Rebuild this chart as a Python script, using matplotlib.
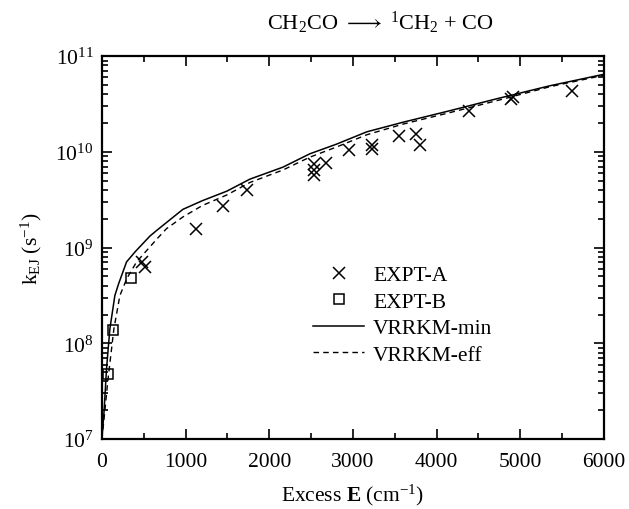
import matplotlib
matplotlib.use("Agg")
import matplotlib.pyplot as plt
from matplotlib.ticker import MultipleLocator, LogLocator, NullFormatter

plt.rcParams['font.family'] = ['Liberation Serif', 'DejaVu Serif']
plt.rcParams['mathtext.fontset'] = 'custom'
plt.rcParams['mathtext.rm'] = 'Liberation Serif'
plt.rcParams['mathtext.it'] = 'Liberation Serif:italic'
plt.rcParams['mathtext.bf'] = 'Liberation Serif:bold'

# EXPT-A (crosses)
expt_a_E = [474, 513, 1123, 1446, 1733, 2534, 2534, 2534, 2677, 2952, 3227, 3227,
            3550, 3753, 3801, 4386, 4888, 4912, 5617]
expt_a_k = [7.1e8, 6.3e8, 1.55e9, 2.7e9, 4.0e9, 7.4e9, 6.5e9, 5.7e9, 7.6e9, 1.05e10,
            1.17e10, 1.07e10, 1.46e10, 1.53e10, 1.17e10, 2.7e10, 3.55e10, 3.7e10, 4.3e10]

# EXPT-B (squares)
expt_b_E = [68, 128, 343]
expt_b_k = [4.8e7, 1.38e8, 4.8e8]

# VRRKM-min (solid)
min_E = [0, 25, 55, 95, 155, 200, 295, 400, 574, 654, 968, 1200, 1494, 1769, 2163,
         2486, 2800, 3167, 3600, 4159, 4700, 5354, 6000]
min_k = [1.0e7, 1.9e7, 5.4e7, 1.41e8, 3.16e8, 4.2e8, 7.1e8, 9.1e8, 1.32e9, 1.51e9,
         2.51e9, 3.09e9, 3.89e9, 5.19e9, 6.92e9, 9.55e9, 1.2e10, 1.62e10, 2.04e10,
         2.69e10, 3.55e10, 4.9e10, 6.46e10]

# VRRKM-eff (dashed)
eff_E = [0, 36, 70, 143, 215, 300, 415, 657, 773, 968, 1200, 1494, 1769, 2163, 2486,
         2800, 3167, 3600, 4159, 4700, 5354, 6000]
eff_k = [1.0e7, 2.0e7, 4.0e7, 1.41e8, 3.16e8, 4.8e8, 7.1e8, 1.23e9, 1.58e9, 2.09e9,
         2.75e9, 3.55e9, 4.79e9, 6.46e9, 8.81e9, 1.12e10, 1.51e10, 1.95e10, 2.57e10,
         3.39e10, 4.79e10, 6.31e10]

fig = plt.figure(figsize=(6.29, 5.10), dpi=100)
ax = fig.add_axes([0.162, 0.137, 0.798, 0.751])

ax.plot(expt_a_E, expt_a_k, linestyle='none', marker='x', color='black',
        markersize=9, markeredgewidth=1.1, label='EXPT-A')
ax.plot(expt_b_E, expt_b_k, linestyle='none', marker='s', color='black',
        markerfacecolor='none', markersize=7, markeredgewidth=1.1, label='EXPT-B')
ax.plot(min_E, min_k, '-', color='black', linewidth=1.1, label='VRRKM-min')
ax.plot(eff_E, eff_k, '--', color='black', linewidth=1.0, dashes=(4, 3), label='VRRKM-eff')

ax.set_yscale('log')
ax.set_xlim(0, 6000)
ax.set_ylim(1e7, 1e11)
ax.xaxis.set_major_locator(MultipleLocator(1000))
ax.xaxis.set_minor_locator(MultipleLocator(500))
ax.yaxis.set_major_locator(LogLocator(base=10, numticks=10))
ax.yaxis.set_minor_locator(LogLocator(base=10, subs=range(2, 10), numticks=20))
ax.yaxis.set_minor_formatter(NullFormatter())

ax.tick_params(which='both', direction='in', top=True, right=True, labelsize=15.5,
               width=1.2, colors='black')
ax.tick_params(which='major', length=7)
ax.tick_params(axis='x', which='major', pad=9)
ax.tick_params(axis='y', which='major', pad=6)
ax.tick_params(which='minor', length=4)
for s in ax.spines.values():
    s.set_linewidth(1.6)

ax.set_xlabel(r'Excess $\mathbf{E}$ (cm$^{-1}$)', fontsize=15.5, labelpad=8)
ax.set_ylabel(r'k$_{\mathrm{EJ}}$ (s$^{-1}$)', fontsize=15.5, labelpad=8)

ax.legend(loc='center left', bbox_to_anchor=(0.42, 0.324), frameon=False,
          fontsize=15.5, handlelength=2.4, handletextpad=0.4, labelspacing=0.3,
          borderpad=0, borderaxespad=0, numpoints=1)

fig.text(0.605, 0.955, r'CH$_2$CO $\longrightarrow$ $^1$CH$_2$ + CO', fontsize=16,
         ha='center', va='center')

fig.savefig('out.png', dpi=100)
